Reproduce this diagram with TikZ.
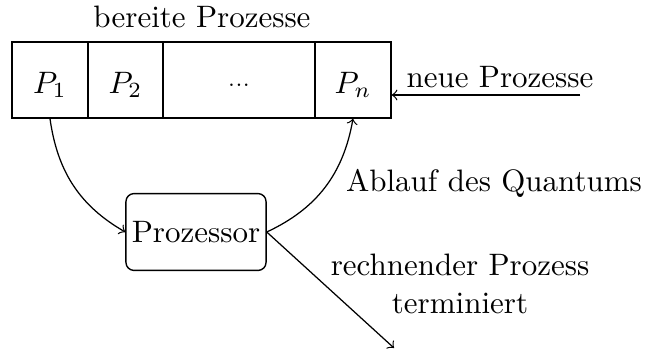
\documentclass[tikz,border=0pt]{standalone}
\begin{document}
\begin{tikzpicture}[x=0.3226pt, y=-0.3226pt,
  cell/.style={draw, line width=0.45pt, minimum height=24.5pt, inner sep=0pt,
               text height=9pt, text depth=0.6pt},
  proc/.style={draw, line width=0.45pt, rounded corners=2.6pt,
               minimum width=45.2pt, minimum height=24.8pt, inner sep=0pt},
  flow/.style={->, line width=0.4pt},
  lbl/.style={anchor=base, inner sep=0pt}]
\useasboundingbox (0,0) rectangle (646,351);

% ready queue
\node[cell, minimum width=24.5pt] (p1)   at (50,80)    {$P_1$};
\node[cell, minimum width=24.2pt] (p2)   at (125.5,80) {$P_2$};
\node[cell, minimum width=49pt]   (dots) at (239,80)   {\raisebox{2.2pt}{$\scriptstyle\ldots$}};
\node[cell, minimum width=24.5pt] (pn)   at (353,80)   {$P_n$};
\node[lbl] (queue) at (202,27) {bereite Prozesse};

% processor
\node[proc] (cpu) at (196,232) {Prozessor};

% new processes enter at the tail
\coordinate (newin) at (580,95);
\draw[flow] (newin) -- (newin -| pn.east);
\node[lbl] (newlbl) at (500,87) {neue Prozesse};

% dispatch and preemption
\draw[flow] (p1.south) to[out=-82, in=150] (cpu.west);
\draw[flow] (cpu.east) to[out=25, in=-100] (pn.south);
\node[lbl] (quantum) at (494,191) {Ablauf des Quantums};

% termination
\coordinate (done) at (394,348);
\draw[flow] (cpu.east) -- (done);
\node[anchor=base, inner sep=0pt, align=center] (termlbl) at (460,313)
  {rechnender Prozess\\terminiert};
\end{tikzpicture}
\end{document}
